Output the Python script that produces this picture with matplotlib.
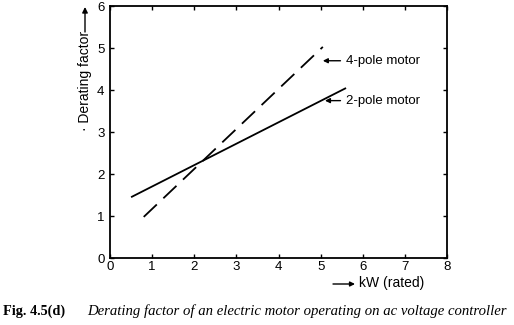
import matplotlib
matplotlib.use("Agg")
import matplotlib.pyplot as plt

# data
x_2pole = [0.5, 5.6]
y_2pole = [1.45, 4.05]
x_4pole = [0.8, 5.05]
y_4pole = [0.98, 5.03]
xticks = [0, 1, 2, 3, 4, 5, 6, 7, 8]
yticks = [0, 1, 2, 3, 4, 5, 6]

plt.rcParams['font.family'] = ['Liberation Sans', 'DejaVu Sans']

fig = plt.figure(figsize=(5.14, 3.25), dpi=100)
ax = fig.add_axes([0.214, 0.206, 0.656, 0.775])

ax.plot(x_2pole, y_2pole, color='black', lw=1.3, solid_capstyle='butt')
ax.plot(x_4pole, y_4pole, color='black', lw=1.3, dashes=(10, 5))

ax.set_xlim(0, 8)
ax.set_ylim(0, 6)
ax.set_xticks(xticks)
ax.set_yticks(yticks)
ax.tick_params(direction='in', length=3, width=1, top=True, right=True,
               labelsize=9.5)
ax.tick_params(axis='x', pad=2)
ax.tick_params(axis='y', pad=4)
for s in ax.spines.values():
    s.set_linewidth(1.3)

ax.annotate('4-pole motor', xy=(5.05, 4.7), xytext=(5.6, 4.7),
            va='center', ha='left', fontsize=9.5,
            arrowprops=dict(arrowstyle='-|>', color='black', lw=1,
                            mutation_scale=7, shrinkA=2, shrinkB=0))
ax.annotate('2-pole motor', xy=(5.1, 3.75), xytext=(5.6, 3.75),
            va='center', ha='left', fontsize=9.5,
            arrowprops=dict(arrowstyle='-|>', color='black', lw=1,
                            mutation_scale=7, shrinkA=2, shrinkB=0))

# y label with arrow
fig.text(85/514, 1 - 81/325, '\u00b7 Derating factor', rotation=90,
         ha='center', va='center', fontsize=10)
fig.add_artist(matplotlib.patches.FancyArrowPatch(
    (85/514, 1 - 32/325), (85/514, 1 - 7/325), transform=fig.transFigure,
    arrowstyle='-|>', mutation_scale=8, color='black', lw=1,
    shrinkA=0, shrinkB=0))

# x label with arrow
fig.add_artist(matplotlib.patches.FancyArrowPatch(
    (333/514, 1 - 284/325), (355/514, 1 - 284/325), transform=fig.transFigure,
    arrowstyle='-|>', mutation_scale=7, color='black', lw=1,
    shrinkA=0, shrinkB=0))
fig.text(359/514, 1 - 283/325, 'kW (rated)', ha='left', va='center', fontsize=10)

# caption
fig.text(3/514, 1 - 311/325, 'Fig. 4.5(d)', family='Liberation Serif',
         fontweight='bold', fontsize=10.3, ha='left', va='center')
fig.text(87/514, 1 - 311/325,
         'Derating factor of an electric motor operating on ac voltage controller',
         family='Liberation Serif', style='italic', fontsize=10.6,
         ha='left', va='center')

fig.savefig('out.png', dpi=100)
